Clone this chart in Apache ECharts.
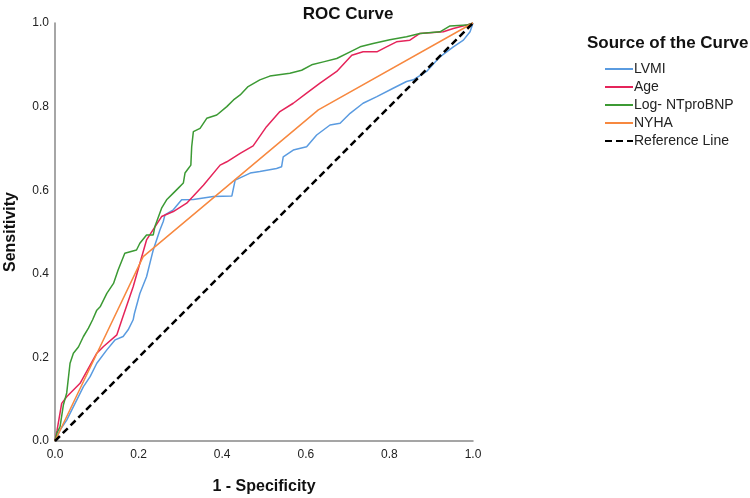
<!DOCTYPE html>
<html>
<head>
<meta charset="utf-8">
<script src="https://cdn.jsdelivr.net/npm/echarts@6/dist/echarts.min.js"></script>
<style>html,body{margin:0;padding:0;background:#fff}#c{width:750px;height:498px}</style>
</head>
<body>
<div id="c"></div>
<script>
const seriesNames = ['LVMI', 'Age', 'Log- NTproBNP', 'NYHA', 'Reference Line'];
const tickValues = [0, 0.2, 0.4, 0.6, 0.8, 1.0];

const lvmi = [[0,0],[0.012,0.026],[0.028,0.05],[0.048,0.09],[0.068,0.13],[0.084,0.154],[0.1,0.186],[0.124,0.218],[0.144,0.242],[0.163,0.25],[0.175,0.266],[0.187,0.29],[0.19,0.305],[0.203,0.353],[0.219,0.393],[0.231,0.441],[0.235,0.457],[0.243,0.481],[0.251,0.505],[0.259,0.525],[0.263,0.541],[0.283,0.553],[0.303,0.577],[0.331,0.578],[0.379,0.585],[0.423,0.586],[0.431,0.624],[0.467,0.641],[0.49,0.645],[0.53,0.652],[0.542,0.656],[0.546,0.68],[0.57,0.696],[0.602,0.704],[0.626,0.732],[0.658,0.756],[0.682,0.76],[0.706,0.784],[0.737,0.808],[0.77,0.824],[0.809,0.844],[0.841,0.86],[0.857,0.864],[0.889,0.884],[0.921,0.919],[0.953,0.943],[0.977,0.959],[0.993,0.979],[1,1]];

const age = [[0,0],[0.005,0.026],[0.016,0.09],[0.028,0.106],[0.06,0.138],[0.1,0.21],[0.116,0.226],[0.148,0.254],[0.16,0.29],[0.187,0.369],[0.219,0.481],[0.255,0.537],[0.283,0.549],[0.315,0.569],[0.355,0.612],[0.395,0.66],[0.411,0.668],[0.443,0.688],[0.474,0.706],[0.506,0.752],[0.538,0.788],[0.57,0.808],[0.602,0.832],[0.634,0.856],[0.674,0.884],[0.71,0.923],[0.737,0.931],[0.77,0.931],[0.793,0.943],[0.817,0.955],[0.849,0.959],[0.873,0.975],[0.929,0.979],[0.953,0.987],[0.985,0.995],[1,1]];

const logNtprobnp = [[0,0],[0.005,0.02],[0.012,0.034],[0.02,0.086],[0.028,0.115],[0.036,0.186],[0.044,0.21],[0.056,0.225],[0.068,0.25],[0.08,0.27],[0.09,0.29],[0.1,0.313],[0.108,0.321],[0.124,0.353],[0.14,0.377],[0.151,0.409],[0.167,0.449],[0.195,0.457],[0.203,0.473],[0.219,0.493],[0.235,0.493],[0.239,0.513],[0.255,0.557],[0.267,0.577],[0.283,0.593],[0.295,0.605],[0.307,0.617],[0.311,0.641],[0.319,0.652],[0.325,0.66],[0.327,0.704],[0.331,0.74],[0.347,0.748],[0.363,0.772],[0.387,0.78],[0.411,0.8],[0.427,0.816],[0.443,0.828],[0.462,0.848],[0.49,0.864],[0.514,0.873],[0.562,0.88],[0.59,0.887],[0.614,0.9],[0.642,0.907],[0.674,0.915],[0.706,0.931],[0.73,0.943],[0.761,0.951],[0.801,0.96],[0.841,0.967],[0.873,0.975],[0.921,0.979],[0.945,0.993],[0.985,0.995],[1,1]];

const nyha = [[0,0],[0.211,0.441],[0.63,0.792],[1,1]];

const referenceLine = [[0,0],[1,1]];

const colors = ['#5a9be0', '#e5245a', '#3c9a34', '#f7883f', '#000000'];
const allData = [lvmi, age, logNtprobnp, nyha, referenceLine];

const FONT = 'Liberation Sans, Arial, sans-serif';
const chart = echarts.init(document.getElementById('c'));

const series = allData.map((d, i) => ({
  name: seriesNames[i],
  type: 'line',
  data: d,
  symbol: 'none',
  animation: false,
  lineStyle: i === 4
    ? { color: colors[i], width: 2.5, type: [7, 4] }
    : { color: colors[i], width: 1.5 },
  itemStyle: { color: colors[i] },
  z: i === 4 ? 5 : 2
}));

chart.setOption({
  animation: false,
  title: [
    { text: 'ROC Curve', left: 343, top: 1, textAlign: 'center',
      textStyle: { fontFamily: FONT, fontSize: 17, fontWeight: 'bold', color: '#111' } },
    { text: 'Source of the Curve', left: 582, top: 30,
      textStyle: { fontFamily: FONT, fontSize: 17, fontWeight: 'bold', color: '#111' } }
  ],
  legend: {
    orient: 'vertical', left: 599, top: 57,
    itemWidth: 28, itemHeight: 14, itemGap: 4,
    data: seriesNames,
    itemStyle: { opacity: 0 },
    textStyle: { fontFamily: FONT, fontSize: 14, color: '#222', padding: [0,0,0,-4] }
  },
  grid: { left: 55, right: 277, top: 23, bottom: 57, containLabel: false, outerBoundsMode: 'none' },
  xAxis: {
    type: 'value', min: 0, max: 1, interval: 0.2,
    name: '1 - Specificity', nameLocation: 'middle', nameGap: 38,
    nameTextStyle: { fontFamily: FONT, fontSize: 16, fontWeight: 'bold', color: '#111' },
    axisLine: { show: true, lineStyle: { color: '#888', width: 1.5 } },
    axisTick: { show: false },
    splitLine: { show: false },
    axisLabel: { margin: 8, fontFamily: FONT, fontSize: 12, color: '#222',
      formatter: v => tickValues.includes(+v.toFixed(1)) ? v.toFixed(1) : '' }
  },
  yAxis: {
    type: 'value', min: 0, max: 1, interval: 0.2,
    name: 'Sensitivity', nameLocation: 'middle', nameGap: 36,
    nameTextStyle: { fontFamily: FONT, fontSize: 16, fontWeight: 'bold', color: '#111' },
    axisLine: { show: true, lineStyle: { color: '#888', width: 1.5 } },
    axisTick: { show: false },
    splitLine: { show: false },
    axisLabel: { margin: 6, fontFamily: FONT, fontSize: 12, color: '#222',
      formatter: v => v.toFixed(1) }
  },
  series: series
});
</script>
</body>
</html>
